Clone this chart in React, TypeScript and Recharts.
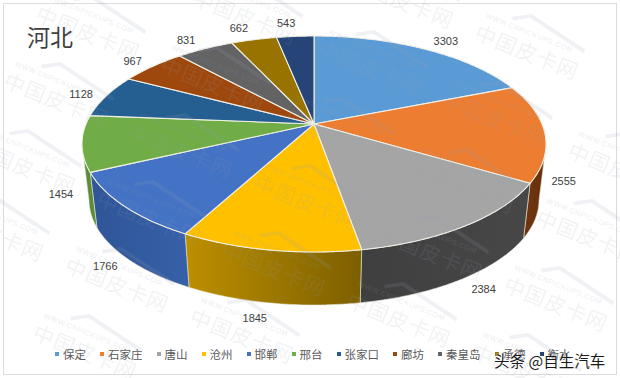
import React from 'react';
import { PieChart, Pie, Legend } from 'recharts';

const cities = ['保定', '石家庄', '唐山', '沧州', '邯郸', '邢台', '张家口', '廊坊', '秦皇岛', '承德', '衡水'];
const sales = [3303, 2555, 2384, 1845, 1766, 1454, 1128, 967, 831, 662, 543];

const topColors = ['#5b9bd5', '#ed7d31', '#a5a5a5', '#ffc000', '#4472c4', '#70ad47', '#255e91', '#9e480e', '#636363', '#997300', '#264478'];
// left and right shade of the visible side wall
const wallColors: Record<number, [string, string]> = {
  0: ['#4a7db0', '#4a7db0'],
  1: ['#6f3410', '#6a300c'],
  2: ['#3f3f3f', '#474747'],
  3: ['#bd8f00', '#7c5f00'],
  4: ['#2f5597', '#3660a8'],
  5: ['#5a8c39', '#5a8c39'],
};
// label nudges away from the rim, in px
const labelNudge = [[21, -8], [26, -8], [22, 10], [-16, 15], [-25, 5], [-28, -5], [-25, -2], [-20, -5], [-19, -9], [-15, -12], [-9, -13]];

const chartData = cities.map((name, i) => ({ name, value: sales[i], fill: topColors[i] }));

// squash + perspective of the 3D look
const SQUASH = 108 / 232;
const TILT = -0.185;
const DEPTH = 56;
const BOTTOM_RX = 225 / 232;
const BOTTOM_RY = 105 / 232;

// recharts angle (deg, ccw from east) -> point on the unit disc after perspective
const project = (angle: number) => {
  const rad = (angle * Math.PI) / 180;
  const u = Math.cos(rad);
  const v = -Math.sin(rad);
  const w = 1 + TILT * v;
  return { u: (u * Math.sqrt(1 - TILT * TILT)) / w, v: (v + TILT) / w };
};
const topPoint = (cx: number, cy: number, r: number, angle: number) => {
  const p = project(angle);
  return [cx + p.u * r, cy + p.v * r * SQUASH];
};
const bottomPoint = (cx: number, cy: number, r: number, angle: number) => {
  const p = project(angle);
  return [cx + p.u * r * BOTTOM_RX, cy + DEPTH + p.v * r * BOTTOM_RY];
};
const fmt = (pts: number[][]) => pts.map((p) => `${p[0].toFixed(1)},${p[1].toFixed(1)}`).join(' L');

const Slice3D = (props: any) => {
  const { cx, cy, outerRadius, startAngle, endAngle, fill, index } = props;
  const angles: number[] = [];
  const steps = Math.max(4, Math.ceil(Math.abs(endAngle - startAngle) * 2));
  for (let i = 0; i <= steps; i++) angles.push(startAngle + ((endAngle - startAngle) * i) / steps);

  const rim = angles.map((a) => topPoint(cx, cy, outerRadius, a));
  const hub = [cx, cy + TILT * outerRadius * SQUASH];
  const topPath = `M${fmt([hub, ...rim])} Z`;

  const front = angles.filter((a) => project(a).v >= 0);
  const shades = wallColors[index];
  const gradId = `wall-${index}`;
  let wallPath = '';
  if (front.length > 1 && shades) {
    const upper = front.map((a) => topPoint(cx, cy, outerRadius, a));
    const lower = front.map((a) => bottomPoint(cx, cy, outerRadius, a)).reverse();
    wallPath = `M${fmt([...upper, ...lower])} Z`;
  }
  return (
    <g>
      {wallPath && (
        <>
          <defs>
            <linearGradient id={gradId} x1="1" y1="0" x2="0" y2="0">
              <stop offset="0%" stopColor={shades[1]} />
              <stop offset="100%" stopColor={shades[0]} />
            </linearGradient>
          </defs>
          <path d={wallPath} fill={`url(#${gradId})`} stroke="#e9e6d6" strokeWidth={0.6} />
        </>
      )}
      <path d={topPath} fill={fill} stroke="#f2f0e6" strokeWidth={1.1} strokeLinejoin="round" />
    </g>
  );
};

const renderLabel = (props: any) => {
  const { cx, cy, outerRadius, midAngle, value, index } = props;
  const p = project(midAngle);
  const base = p.v < -0.2 ? topPoint(cx, cy, outerRadius, midAngle) : bottomPoint(cx, cy, outerRadius, midAngle);
  const nudge = labelNudge[index];
  return (
    <text
      x={base[0] + nudge[0]}
      y={base[1] + nudge[1]}
      textAnchor="middle"
      dominantBaseline="central"
      fontSize={11}
      fontFamily="'Liberation Sans', sans-serif"
      fill="#404040"
    >
      {value}
    </text>
  );
};

const renderLegend = (props: any) => (
  <div style={{ display: 'flex', alignItems: 'center', fontFamily: "'Noto Sans CJK SC', sans-serif", fontSize: 11.5, lineHeight: '18px', color: '#595959', whiteSpace: 'nowrap' }}>
    {props.payload.map((entry: any) => (
      <span key={entry.value} style={{ display: 'inline-flex', alignItems: 'center', marginRight: 14 }}>
        <span style={{ width: 4, height: 4, background: entry.color, marginRight: 4, display: 'inline-block' }} />
        {entry.value}
      </span>
    ))}
  </div>
);

// faint repeated site watermark laid over the picture
const watermarkSpots: number[][] = [];
for (let i = -4; i <= 5; i++) {
  for (let j = -7; j <= 3; j++) {
    const x = 117 + i * 125 + j * -32;
    const y = 285 + i * 51 + j * 67;
    if (x > -10 && x < 630 && y > -10 && y < 385) watermarkSpots.push([x, y]);
  }
}

const Watermarks = () => (
  <svg width={620} height={378} style={{ position: 'absolute', left: 0, top: 0, pointerEvents: 'none' }}>
    {watermarkSpots.map(([x, y]) => (
      <g key={`${x}-${y}`} transform={`translate(${x} ${y}) rotate(22)`} fill="rgba(150,160,180,0.15)">
        <path d="M-27,-27 L-10,-37 L53,-24 L53,-20 L-10,-33 L-25,-24 Z" />
        <text x={-5} y={-16} textAnchor="middle" fontSize={7.5} fontWeight={700} fontFamily="'Liberation Sans', sans-serif" letterSpacing={0.4}>
          WWW.CNPICKUPS.COM
        </text>
        <text x={0} y={8} textAnchor="middle" fontSize={21} fontFamily="'Noto Sans CJK SC', sans-serif" letterSpacing={1}>
          中国皮卡网
        </text>
      </g>
    ))}
  </svg>
);

export default function App() {
  return (
    <div style={{ position: 'absolute', left: 0, top: 0, width: 620, height: 378, background: '#fff', overflow: 'hidden' }}>
      <div style={{ position: 'absolute', left: 3, top: 3, width: 612, height: 370, border: '1px solid #dcdcdc' }} />
      <PieChart width={620} height={378} margin={{ top: 0, right: 0, bottom: 0, left: 0 }}>
        <Pie
          data={chartData}
          dataKey="value"
          nameKey="name"
          cx={314}
          cy={144}
          innerRadius={0}
          outerRadius={232}
          startAngle={90}
          endAngle={-270}
          label={renderLabel}
          labelLine={false}
          shape={Slice3D}
          inactiveShape={Slice3D}
          isAnimationActive={false}
        />
        <Legend
          content={renderLegend}
          itemSorter={null}
          wrapperStyle={{ position: 'absolute', left: 55, top: 345, width: 560, height: 18 }}
        />
      </PieChart>
      <div style={{ position: 'absolute', left: 27, top: 20, fontSize: 23, color: '#404040', fontFamily: "'Noto Sans CJK SC', sans-serif", lineHeight: '32px' }}>
        河北
      </div>
      <Watermarks />
      <div style={{ position: 'absolute', left: 494, top: 349, fontSize: 15.5, color: '#1a1a1a', fontFamily: "'Noto Sans CJK SC', sans-serif", lineHeight: '22px', whiteSpace: 'nowrap', textShadow: '0 0 2px #fff, 0 0 2px #fff' }}>
        头条 @自生汽车
      </div>
    </div>
  );
}
